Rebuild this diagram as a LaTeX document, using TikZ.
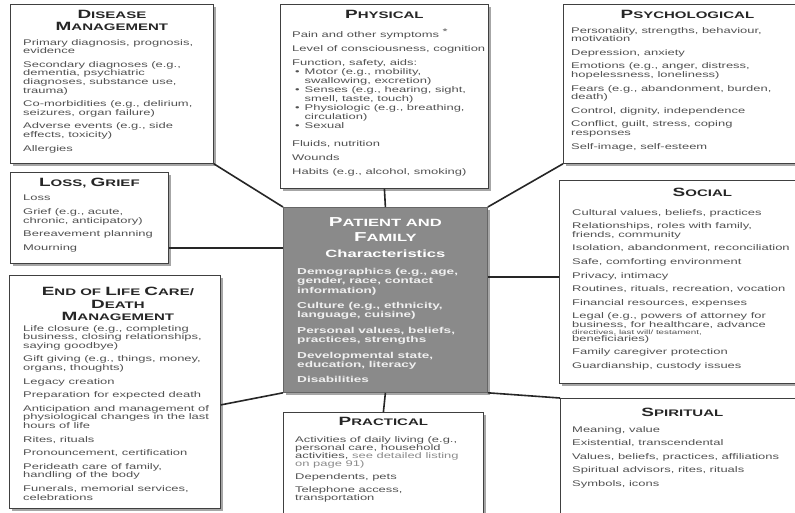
\documentclass[tikz,border=0pt]{standalone}
\usepackage{fontspec}
\setmainfont[FakeStretch=1.58]{Liberation Sans}
\usepackage{tikz}
\usetikzlibrary{shadows}
\newcommand{\hcap}[3][12]{{\fontsize{#1}{#1}\selectfont #2}#3}
\newcommand{\gp}{\\[5pt]}
\newcommand{\bul}{\hspace*{3pt}\textbullet\hspace{5pt}}
\newcommand{\ind}{\hspace*{12.5pt}}

\begin{document}
\begin{tikzpicture}[
    x=1pt, y=-1pt,
    box/.style={draw=black!75, line width=0.8pt, fill=white, anchor=north west, inner sep=0pt,
      drop shadow={shadow xshift=2.5pt, shadow yshift=-2.5pt, fill=black!35, opacity=1}},
    hub/.style={box, fill=black!46, draw=black!60},
    ttl/.style={anchor=north, align=center, inner sep=0pt, text=black!85,
      font=\fontsize{9.5}{12.5}\selectfont\bfseries},
    txt/.style={anchor=north west, align=left, inner sep=0pt, text=black!68,
      font=\fontsize{8.2}{8.6}\selectfont},
    link/.style={line width=1.6pt, black!85}
    ]
    \useasboundingbox (0,0) rectangle (795,512);
    \fill[white] (0,0) rectangle (795,512);
    \clip (0,0) rectangle (795,512);

    % boxes round the hub
    \node[box, minimum width=203pt, minimum height=159pt] (dm) at (10,4) {};
    \node[box, minimum width=158pt, minimum height=91pt] (lg) at (10,172) {};
    \node[box, minimum width=211pt, minimum height=233pt] (eol) at (9,275) {};
    \node[box, minimum width=208pt, minimum height=184pt] (ph) at (280,4) {};
    \node[box, minimum width=248pt, minimum height=159pt] (ps) at (563,4) {};
    \node[box, minimum width=286pt, minimum height=203pt] (so) at (559,180) {};
    \node[box, minimum width=244pt, minimum height=125pt] (sp) at (560,398) {};
    \node[box, minimum width=200pt, minimum height=110pt] (pr) at (283,412) {};
    \node[hub, minimum width=204pt, minimum height=185pt] (pf) at (283,207) {};

    % connectors
    \coordinate (lgc) at ([yshift=16pt]lg.south east);
    \coordinate (soc) at ([yshift=5pt]so.west);
    \coordinate (eolc) at ([yshift=-13pt]eol.east);
    \draw[link] (dm.south east) -- (pf.north west);
    \draw[link] (ph.south) -- (pf.north);
    \draw[link] (ps.south west) -- (pf.north east);
    \draw[link] (lgc) -- (lgc -| pf.west);
    \draw[link] (soc) -- (soc -| pf.east);
    \draw[link] (eolc) -- (pf.south west);
    \draw[link] (pf.south) -- (pr.north);
    \draw[link] (pf.south east) -- (sp.north west);

    % disease management
    \node[ttl] (dmh) at ([yshift=-6pt]dm.north) {\hcap{D}{ISEASE}\\\hcap{M}{ANAGEMENT}};
    \node[txt] (dmb) at ([xshift=13pt,yshift=-35pt]dm.north west) {Primary diagnosis, prognosis,\\evidence\gp
      Secondary diagnoses (e.g.,\\dementia, psychiatric\\diagnoses, substance use,\\trauma)\gp
      Co-morbidities (e.g., delirium,\\seizures, organ failure)\gp
      Adverse events (e.g., side\\effects, toxicity)\gp
      Allergies};

    % loss, grief
    \node[ttl] (lgh) at ([yshift=-6pt]lg.north) {\hcap{L}{OSS,} \hcap{G}{RIEF}};
    \node[txt] (lgb) at ([xshift=13pt,yshift=-23pt]lg.north west) {Loss\gp
      Grief (e.g., acute,\\chronic, anticipatory)\gp
      Bereavement planning\gp
      Mourning};

    % end of life care
    \node[ttl] (eolh) at ([xshift=3pt,yshift=-12pt]eol.north) {\hcap{E}{ND OF} \hcap{L}{IFE} \hcap{C}{ARE/}\\\hcap{D}{EATH}\\\hcap{M}{ANAGEMENT}};
    \node[txt] (eolb) at ([xshift=14pt,yshift=-50pt]eol.north west) {Life closure (e.g., completing\\business, closing relationships,\\saying goodbye)\gp
      Gift giving (e.g., things, money,\\organs, thoughts)\gp
      Legacy creation\gp
      Preparation for expected death\gp
      Anticipation and management of\\physiological changes in the last\\hours of life\gp
      Rites, rituals\gp
      Pronouncement, certification\gp
      Perideath care of family,\\handling of the body\gp
      Funerals, memorial services,\\celebrations};

    % physical
    \node[ttl] (phh) at ([yshift=-6pt]ph.north) {\hcap{P}{HYSICAL}};
    \node[txt, font=\fontsize{8.2}{9}\selectfont] (phb) at ([xshift=12pt,yshift=-25pt]ph.north west) {Pain and other symptoms \raisebox{2.5pt}{*}\gp
      Level of consciousness, cognition\gp
      Function, safety, aids:\\
      \bul Motor (e.g., mobility,\\\ind swallowing, excretion)\\
      \bul Senses (e.g., hearing, sight,\\\ind smell, taste, touch)\\
      \bul Physiologic (e.g., breathing,\\\ind circulation)\\
      \bul Sexual\\[9pt]
      Fluids, nutrition\gp
      Wounds\gp
      Habits (e.g., alcohol, smoking)};

    % psychological
    \node[ttl] (psh) at ([yshift=-6pt]ps.north) {\hcap{P}{SYCHOLOGICAL}};
    \node[txt] (psb) at ([xshift=8pt,yshift=-23pt]ps.north west) {Personality, strengths, behaviour,\\motivation\gp
      Depression, anxiety\gp
      Emotions (e.g., anger, distress,\\hopelessness, loneliness)\gp
      Fears (e.g., abandonment, burden,\\death)\gp
      Control, dignity, independence\gp
      Conflict, guilt, stress, coping\\responses\gp
      Self-image, self-esteem};

    % social
    \node[ttl] (soh) at ([yshift=-8pt]so.north) {\hcap{S}{OCIAL}};
    \node[txt] (sob) at ([xshift=13pt,yshift=-29pt]so.north west) {Cultural values, beliefs, practices\gp
      Relationships, roles with family,\\friends, community\gp
      Isolation, abandonment, reconciliation\gp
      Safe, comforting environment\gp
      Privacy, intimacy\gp
      Routines, rituals, recreation, vocation\gp
      Financial resources, expenses\gp
      Legal (e.g., powers of attorney for\\business, for healthcare, advance\\[-1.8pt]
      {\fontsize{6.2}{6.4}\selectfont directives, last will/ testament,}\\[-1.8pt]
      beneficiaries)\gp
      Family caregiver protection\gp
      Guardianship, custody issues};

    % spiritual
    \node[ttl] (sph) at ([yshift=-10pt]sp.north) {\hcap{S}{PIRITUAL}};
    \node[txt] (spb) at ([xshift=12pt,yshift=-28pt]sp.north west) {Meaning, value\gp
      Existential, transcendental\gp
      Values, beliefs, practices, affiliations\gp
      Spiritual advisors, rites, rituals\gp
      Symbols, icons};

    % practical
    \node[ttl] (prh) at ([yshift=-5pt]pr.north) {\hcap{P}{RACTICAL}};
    \node[txt, font=\fontsize{8.2}{8.1}\selectfont] (prb) at ([xshift=12pt,yshift=-24pt]pr.north west) {Activities of daily living (e.g.,\\personal care, household\\activities, {\color{black!45}see detailed listing}\\{\color{black!45}on page 91)}\gp
      Dependents, pets\gp
      Telephone access,\\transportation};

    % patient and family
    \node[ttl, text=white, font=\fontsize{10.5}{15}\selectfont\bfseries] (pfh) at ([yshift=-10pt]pf.north) {\hcap[13]{P}{ATIENT AND}\\\hcap[13]{F}{AMILY}\\[1pt]Characteristics};
    \node[txt, text=white!94!black, font=\fontsize{8.6}{9.3}\selectfont\bfseries] (pfb) at ([xshift=14pt,yshift=-61pt]pf.north west) {Demographics (e.g., age,\\gender, race, contact\\information)\\[6.2pt]
      Culture (e.g., ethnicity,\\language, cuisine)\\[6.2pt]
      Personal values, beliefs,\\practices, strengths\\[6.2pt]
      Developmental state,\\education, literacy\\[6.2pt]
      Disabilities};
  \end{tikzpicture}
\end{document}
